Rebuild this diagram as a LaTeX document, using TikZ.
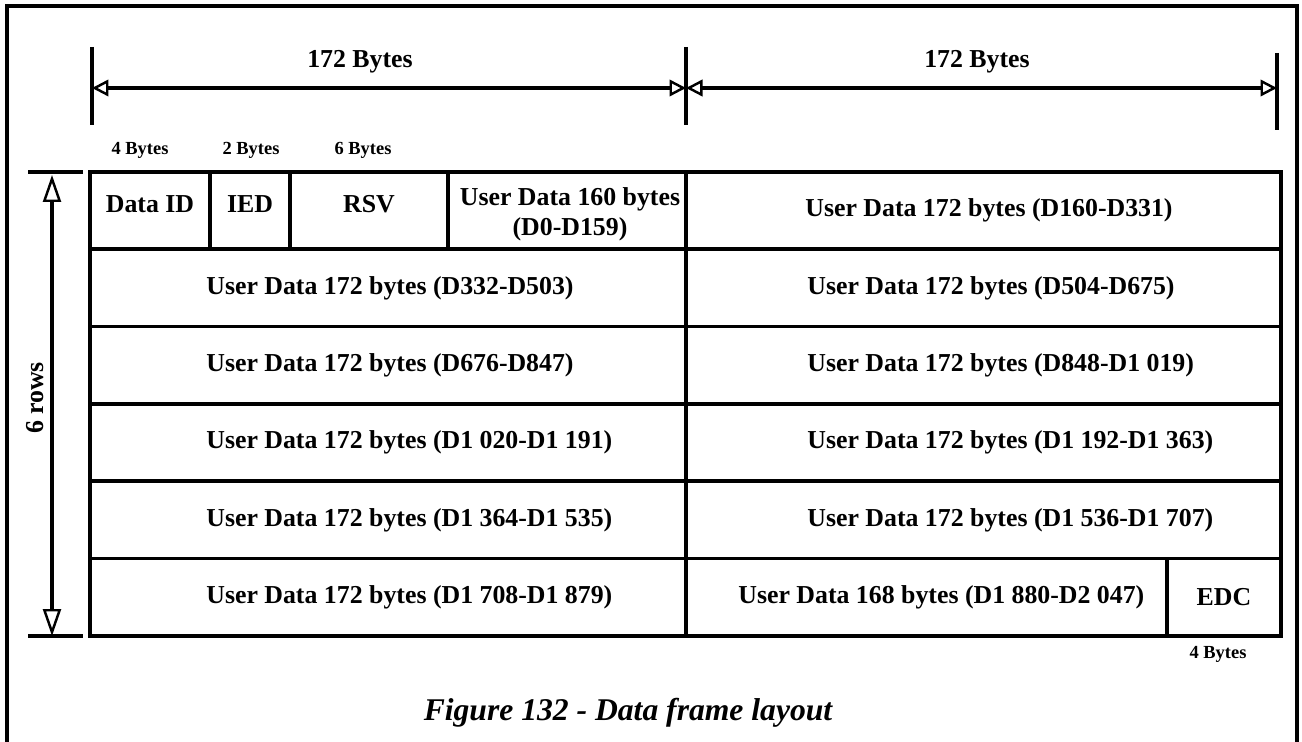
\documentclass[tikz,border=0pt]{standalone}
\usepackage{fontspec}
\setmainfont{Liberation Serif}
\usetikzlibrary{arrows.meta,positioning}
\tikzset{
  border/.style={line width=2.3pt},
  rule/.style={line width=2.1pt},
  dimtick/.style={line width=1.8pt},
  dim/.style={line width=1.9pt,{Triangle[open,length=3.3mm,width=3.3mm,line width=1.4pt]}-{Triangle[open,length=3.3mm,width=3.3mm,line width=1.4pt]}},
  vdim/.style={line width=1.9pt,{Triangle[open,length=5.4mm,width=3.6mm,line width=1.4pt]}-{Triangle[open,length=5.4mm,width=3.6mm,line width=1.4pt]}},
  cell/.style={font=\fontsize{14.7}{17}\selectfont\bfseries,inner sep=0pt,align=center},
  bytes/.style={font=\fontsize{10.5}{12}\selectfont\bfseries,inner sep=0pt,anchor=base},
  caption/.style={font=\fontsize{18}{20}\selectfont\bfseries\itshape,inner sep=0pt,anchor=base},
}
\begin{document}
\begin{tikzpicture}[x=0.02cm,y=-0.02cm]
    \useasboundingbox (0,0) rectangle (1302,742);
    \draw[border] (7,742) -- (7,6) -- (1297,6) -- (1297,742);
    % widths
    \coordinate (hA) at (92,88);
    \coordinate (hB) at (686,88);
    \coordinate (hC) at (1277,88);
    \draw[dimtick] (92,47) -- (92,125) (686,47) -- (686,125) (1277,53) -- (1277,130);
    \draw[dim] (hA) -- (hB);
    \draw[dim] (hB) -- (hC);
    \node[cell,anchor=base] (wL) at (360,68) {172 Bytes};
    \node[cell,anchor=base] (wR) at (977,68) {172 Bytes};
    % rows
    \coordinate (vA) at (52,175);
    \coordinate (vB) at (52,636);
    \draw[dimtick] (28,172) -- (83,172) (28,636) -- (83,636);
    \draw[vdim] (vA) -- (vB);
    \node[cell,rotate=90] (rows) at (35,398) {6 rows};
    % frame
    \draw[rule] (90,172) rectangle (1281,636);
    \foreach \y in {249.3,326.6,403.9,481.2,558.5} \draw[rule] (90,\y) -- (1281,\y);
    \draw[rule] (686,172) -- (686,636);
    \draw[rule] (210,172) -- (210,249.3) (290,172) -- (290,249.3) (448,172) -- (448,249.3) (1167,558.5) -- (1167,636);
    \node[bytes] (b4) at (140,155) {4 Bytes};
    \node[bytes] (b2) at (251,155) {2 Bytes};
    \node[bytes] (b6) at (363,155) {6 Bytes};
    \node[cell] (did) at (150,204) {Data ID};
    \node[cell] (ied) at (250,204) {IED};
    \node[cell] (rsv) at (369,204) {RSV};
    \node[cell] (u0) at (570,214) {User Data 160 bytes\\(D0-D159)};
    \node[cell,anchor=west] (r1) at (805,210) {User Data 172 bytes (D160-D331)};
    \foreach \a/\b [count=\i from 2] in {D332-D503/D504-D675,D676-D847/D848-D1 019,D1 020-D1 191/D1 192-D1 363,D1 364-D1 535/D1 536-D1 707}{
      \node[cell,anchor=west] (l\i) at (206,{172+77.3*(\i-0.5)}) {User Data 172 bytes (\a)};
      \node[cell,anchor=west] (r\i) at (807,{172+77.3*(\i-0.5)}) {User Data 172 bytes (\b)};
    }
    \node[cell,anchor=west] (l6) at (206,597) {User Data 172 bytes (D1 708-D1 879)};
    \node[cell,anchor=west] (r6) at (738,597) {User Data 168 bytes (D1 880-D2 047)};
    \node[cell] (edc) at (1224,597) {EDC};
    \node[bytes] (b4e) at (1218,659) {4 Bytes};
    \node[caption] (cap) at (628,721) {Figure 132 - Data frame layout};
\end{tikzpicture}
\end{document}
